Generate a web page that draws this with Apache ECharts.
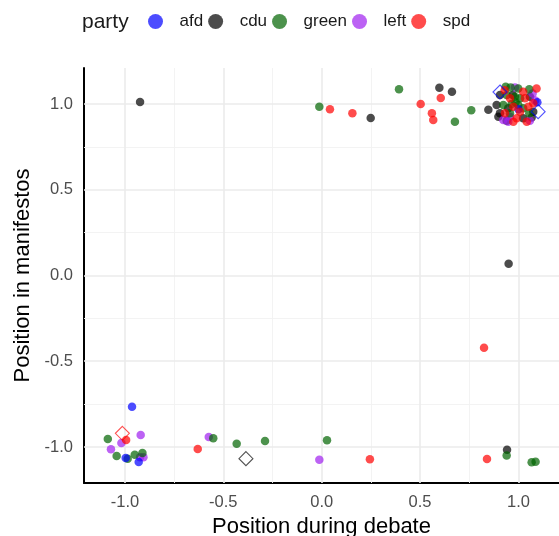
<!DOCTYPE html>
<html>
<head>
<meta charset="utf-8">
<script src="https://cdn.jsdelivr.net/npm/echarts@6/dist/echarts.min.js"></script>
<style>html,body{margin:0;padding:0;background:#fff;}#c{width:559px;height:536px;}</style>
</head>
<body>
<div id="c"></div>
<script>
var parties = ['afd', 'cdu', 'green', 'left', 'spd'];
var partyColors = {
  afd: 'rgba(0,0,255,0.7)',
  cdu: 'rgba(0,0,0,0.7)',
  green: 'rgba(0,100,0,0.7)',
  left: 'rgba(160,32,240,0.7)',
  spd: 'rgba(255,0,0,0.7)'
};
var diamondColors = {
  afd: 'rgba(0,0,255,0.85)',
  cdu: 'rgba(0,0,0,0.85)',
  spd: 'rgba(255,0,0,0.85)'
};
var xTicks = [-1, -0.5, 0, 0.5, 1];
var yTicks = [-1, -0.5, 0, 0.5, 1];
var gridMajor = [-1, -0.5, 0, 0.5, 1];
var gridMinor = [-0.75, -0.25, 0.25, 0.75];
var gridMinorY = [-0.75, -0.25, 0.25, 0.75];

var afdPoints = [[-0.964,-0.765],[-0.996,-1.064],[-0.930,-1.087],[1.000,0.970],[1.096,1.010]];
var cduPoints = [[-0.923,1.012],[0.249,0.918],[0.598,1.095],[0.662,1.072],[0.847,0.967],[0.950,0.069],[0.942,-1.016],
  [0.906,1.052],[0.971,1.052],[1.058,1.043],[0.889,0.994],[0.948,0.975],[0.906,0.946],[1.075,0.955],[0.940,0.903],[1.024,0.917],[1.067,0.922],[0.898,0.926]];
var leftPoints = [[-0.920,-0.930],[-1.018,-0.977],[-1.071,-1.013],[-0.923,-1.060],[-0.906,-1.060],[-0.574,-0.942],[-0.012,-1.074],
  [0.982,1.097],[1.072,1.062],[1.085,1.020],[0.923,0.907],[0.948,0.897],[1.058,0.903],[0.957,0.926]];
var greenPoints = [[-1.087,-0.953],[-1.042,-1.052],[-0.986,-1.068],[-0.950,-1.045],[-0.911,-1.035],[-0.551,-0.949],[-0.432,-0.981],[-0.288,-0.965],[0.027,-0.961],[0.940,-1.049],[1.067,-1.089],[1.087,-1.086],[-0.012,0.984],[0.393,1.086],[0.677,0.897],[0.760,0.963],
  [0.935,1.101],[0.960,1.097],[0.999,1.091],[1.055,1.086],[0.940,1.052],[0.982,1.043],[1.008,1.033],[0.923,0.994],[0.999,0.994],[1.024,0.975],[0.957,0.946],[1.055,0.946],[0.985,1.010],[0.965,1.000]];
var spdPoints = [[-0.994,-0.959],[-0.630,-1.012],[0.245,-1.072],[0.840,-1.070],[0.825,-0.421],[0.042,0.969],[0.156,0.946],[0.503,1.000],[0.605,1.035],[0.560,0.946],[0.567,0.907],
  [1.024,1.072],[1.092,1.091],[0.957,1.033],[1.033,1.033],[1.075,1.004],[0.974,0.984],[1.050,0.984],[0.931,0.946],[1.008,0.955],[0.974,0.897],[0.991,0.917],[1.042,0.897],[0.930,1.080]];

var afdDiamonds = [[0.906,1.070],[1.100,0.955]];
var cduDiamonds = [[-0.385,-1.068]];
var spdDiamonds = [[-1.013,-0.920]];

var pointsByParty = {afd: afdPoints, cdu: cduPoints, green: greenPoints, left: leftPoints, spd: spdPoints};
var diamondsByParty = {afd: afdDiamonds, cdu: cduDiamonds, spd: spdDiamonds};
var drawOrder = ['cdu', 'left', 'green', 'afd', 'spd'];

var font = 'Liberation Sans, Arial, sans-serif';

function gridLines(vals, key, major) {
  return vals.map(function (v) {
    var d = {lineStyle: {color: major ? '#ebebeb' : '#f2f2f2', width: major ? 1.6 : 0.9, type: 'solid'}};
    d[key] = v;
    return d;
  });
}

var series = [{
  type: 'scatter',
  name: '_grid',
  data: [],
  z: 1,
  silent: true,
  markLine: {
    z: 1,
    silent: true,
    symbol: ['none', 'none'],
    label: {show: false},
    animation: false,
    data: gridLines(gridMinor, 'xAxis', false)
      .concat(gridLines(gridMinorY, 'yAxis', false))
      .concat(gridLines(gridMajor, 'xAxis', true))
      .concat(gridLines(gridMajor, 'yAxis', true))
  }
}];

drawOrder.forEach(function (p) {
  series.push({
    type: 'scatter',
    name: p,
    data: pointsByParty[p],
    symbol: 'circle',
    symbolSize: 8.5,
    z: 3,
    itemStyle: {color: partyColors[p], opacity: 1},
    animation: false
  });
});
Object.keys(diamondsByParty).forEach(function (p) {
  series.push({
    type: 'scatter',
    name: p + ' mean',
    data: diamondsByParty[p],
    symbol: 'diamond',
    symbolSize: 14,
    z: 4,
    itemStyle: {color: 'rgba(0,0,0,0)', borderColor: diamondColors[p], borderWidth: 1.1},
    animation: false
  });
});

var chart = echarts.init(document.getElementById('c'), null, {renderer: 'canvas'});
chart.setOption({
  animation: false,
  backgroundColor: '#ffffff',
  title: {
    text: 'party',
    left: 77,
    top: 7,
    textStyle: {fontFamily: font, fontSize: 21, fontWeight: 'normal', color: '#1a1a1a'}
  },
  legend: {
    data: parties,
    left: 143,
    top: 8,
    icon: 'circle',
    itemWidth: 38,
    itemHeight: 15,
    itemGap: 5,
    textStyle: {fontFamily: font, fontSize: 17, color: '#1a1a1a'}
  },
  grid: {left: 84, right: 0, top: 68, bottom: 53, containLabel: false, outerBoundsMode: 'none'},
  xAxis: {
    type: 'value',
    min: -1.208,
    max: 1.206,
    name: 'Position during debate',
    nameLocation: 'middle',
    nameGap: 31,
    nameTextStyle: {fontFamily: font, fontSize: 22, color: '#000'},
    axisLine: {show: true, onZero: false, lineStyle: {color: '#000', width: 2}},
    axisTick: {show: false},
    splitLine: {show: false},
    axisLabel: {
      customValues: xTicks,
      formatter: function (v) { return v.toFixed(1); },
      color: '#4d4d4d', fontFamily: font, fontSize: 16.5, margin: 11
    }
  },
  yAxis: {
    type: 'value',
    min: -1.21,
    max: 1.21,
    name: 'Position in manifestos',
    nameLocation: 'middle',
    nameGap: 46,
    nameTextStyle: {fontFamily: font, fontSize: 22, color: '#000'},
    axisLine: {show: true, onZero: false, lineStyle: {color: '#000', width: 2}},
    axisTick: {show: false},
    splitLine: {show: false},
    axisLabel: {
      customValues: yTicks,
      formatter: function (v) { return v.toFixed(1); },
      color: '#4d4d4d', fontFamily: font, fontSize: 16.5, margin: 11
    }
  },
  series: series
});
</script>
</body>
</html>
